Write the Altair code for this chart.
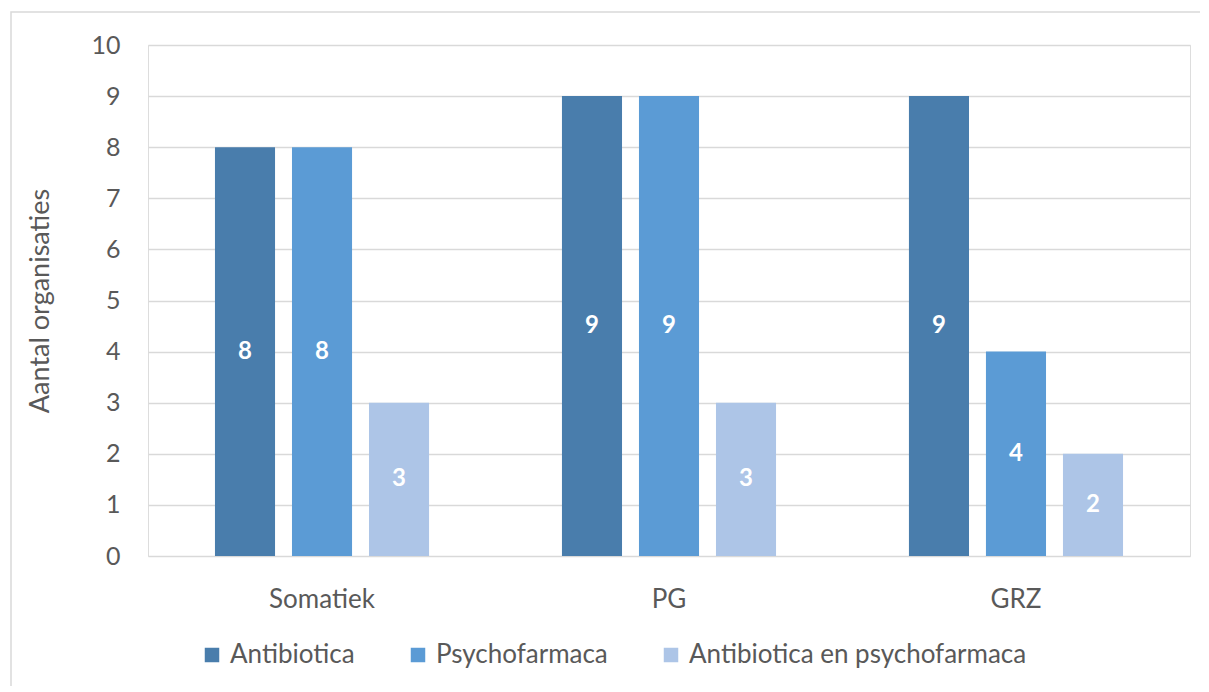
import altair as alt
import pandas as pd

categories = ["Somatiek", "PG", "GRZ"]
series = ["Antibiotica", "Psychofarmaca", "Antibiotica en psychofarmaca"]
antibiotica = [8, 9, 9]
psychofarmaca = [8, 9, 4]
beide = [3, 3, 2]
colors = ["#497DAC", "#5B9BD5", "#ADC5E7"]

rows = []
for i, c in enumerate(categories):
    for s, vals in zip(series, [antibiotica, psychofarmaca, beide]):
        rows.append({"cat": c, "serie": s, "val": vals[i]})
df = pd.DataFrame(rows)

FONT = "Lato"
GREY = "#595959"

x = alt.X("cat:N", sort=categories, title=None,
          scale=alt.Scale(paddingInner=0.383, paddingOuter=0.193),
          axis=alt.Axis(labelAngle=0, labelFontSize=26, labelColor=GREY, labelFont=FONT,
                        labelPadding=30, ticks=False, domain=False))
xo = alt.XOffset("serie:N", sort=series, scale=alt.Scale(paddingInner=0.22, paddingOuter=0))

base = alt.Chart(df)

bars = base.mark_bar().encode(
    x=x, xOffset=xo,
    y=alt.Y("val:Q", title="Aantal organisaties",
            scale=alt.Scale(domain=[0, 10], nice=False),
            axis=alt.Axis(values=list(range(0, 11)), labelFontSize=25, labelColor=GREY, labelFont=FONT,
                          labelPadding=28, ticks=False, domain=False, gridColor="#D9D9D9", gridWidth=1.5,
                          titleFontSize=27, titleColor=GREY, titleFont=FONT, titleFontWeight="normal",
                          titlePadding=36)),
    color=alt.Color("serie:N", sort=series, scale=alt.Scale(domain=series, range=colors),
                    legend=alt.Legend(title=None, orient="none", legendX=51, legendY=597,
                                      direction="horizontal", symbolType="square", symbolSize=210,
                                      symbolStrokeWidth=0, labelFontSize=26, labelColor=GREY,
                                      labelFont=FONT, columnPadding=50, labelOffset=5, labelLimit=0)),
)

labels = base.transform_calculate(mid="datum.val / 2").mark_text(
    color="white", fontWeight="bold", fontSize=24, font=FONT
).encode(x=x, xOffset=xo, y=alt.Y("mid:Q"), text="val:Q")

border = alt.Chart(pd.DataFrame({"a": [0]})).mark_rect(
    fill=None, stroke="#D9D9D9", strokeWidth=1.5
).encode(x=alt.value(-137), x2=alt.value(1054), y=alt.value(-33), y2=alt.value(645))

chart = alt.layer(border, bars, labels).properties(
    width=1042, height=511,
    padding={"left": 140, "top": 37, "right": 10, "bottom": 130},
    autosize=alt.AutoSizeParams(type="none"),
).configure_view(stroke=None).configure(font=FONT)

chart.save("out.html", embed_options={"renderer": "svg", "actions": False})
